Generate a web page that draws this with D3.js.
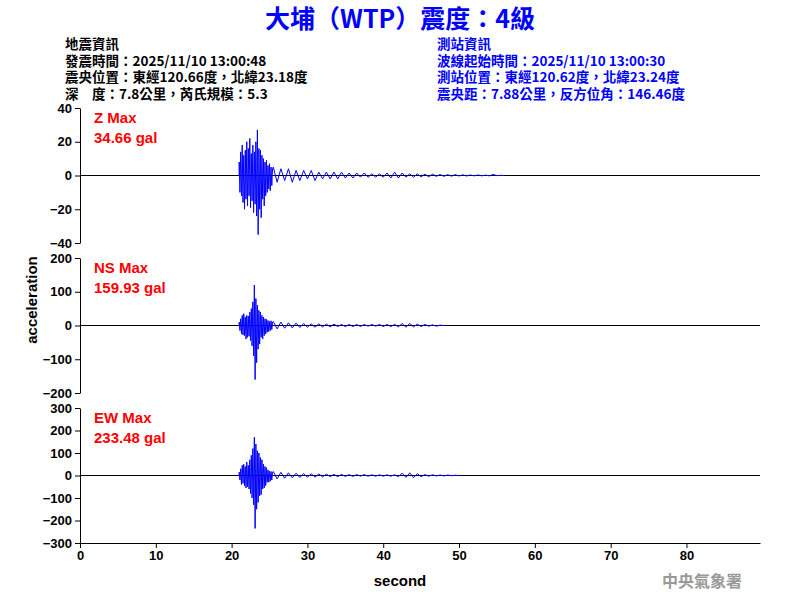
<!DOCTYPE html>
<html><head><meta charset="utf-8">
<script src="https://cdn.jsdelivr.net/npm/d3@7"></script>
<style>body{margin:0;background:#fff}svg{display:block}</style>
</head><body>
<script>
const title = "大埔（WTP）震度：4級";
const leftInfo = ["地震資訊","發震時間：2025/11/10 13:00:48","震央位置：東經120.66度，北緯23.18度","深　度：7.8公里，芮氏規模：5.3"];
const rightInfo = ["測站資訊","波線起始時間：2025/11/10 13:00:30","測站位置：東經120.62度，北緯23.24度","震央距：7.88公里，反方位角：146.46度"];
const channels = ["Z","NS","EW"];
const maxLabels = ["34.66 gal","159.93 gal","233.48 gal"];
const yLimits = [40,200,300];
const yTicks = [[-40,-20,0,20,40],[-200,-100,0,100,200],[-300,-200,-100,0,100,200,300]];
const xTicks = [0,10,20,30,40,50,60,70,80];
const strongStart = 21.0, strongDt = 0.1, codaStart = 25.5, codaDt = 0.5;
const zStrong = [8,-10,14,-12,18,-16,12,-20,15,-14,20,-18,16,-12,22,-19,13,-15,18,-22,14,-17,20,-24,27,-35,16,-20,15,-25,12,-14,10,-18,8,-12,9,-10,6,-8,7,-9,5,-6,4];
const zCoda = [5,-4,4,-3,4,-4,3,-3,3,-2,3,-3,2,-2,2,-2,2,-2,2,-1.5,1.5,-1.5,1.5,-1,1.5,-1,1,-1,1,-1,1.5,-1.5,2,-1.5,1.5,-1,1,-1,1,-0.8,0.8,-0.8,0.8,-0.5,0.6,-0.5,0.5,-0.4,0.5,-0.3,0.4,-0.3,0.3,-0.2,0.3,-0.2,0.2,-0.2,0.6,-0.1,0.1,0];
const nsStrong = [10,-15,20,-25,30,-28,35,-30,25,-40,30,-35,28,-32,40,-45,50,-60,70,-90,120,-160,80,-110,60,-70,45,-55,40,-35,30,-40,25,-30,20,-25,18,-20,15,-18,12,-15,14,-12,10];
const nsCoda = [12,-10,10,-8,8,-7,7,-6,6,-5,5,-5,5,-4,4,-4,4,-3,3,-3,3,-3,3,-3,3,-2,3,-2,3,-3,3,-3,3,-4,6,-5,6,-4,4,-3,3,-2,2,-2,1,0];
const ewStrong = [15,-20,30,-40,45,-35,50,-45,40,-55,60,-50,45,-60,70,-80,90,-100,120,-130,170,-235,140,-150,110,-120,100,-90,80,-85,70,-60,50,-55,40,-45,35,-30,25,-30,20,-25,18,-20,15];
const ewCoda = [18,-15,14,-12,12,-10,10,-9,9,-8,8,-7,7,-6,6,-5,5,-5,5,-4,4,-4,4,-3,4,-3,3,-3,3,-3,3,-3,3,-5,10,-8,12,-10,8,-5,4,-3,3,-2,2,-2,2,-1,1,0];
const traces = [[zStrong,zCoda],[nsStrong,nsCoda],[ewStrong,ewCoda]];

const W=800,H=600;
const svg=d3.select("body").append("svg").attr("width",W).attr("height",H);
const x=d3.scaleLinear().domain([0,89.7]).range([80,760]);
const panels=[[108,243],[258,393],[408,543]];
const F="Liberation Sans, Arial, sans-serif";
const CJK="'Noto Sans CJK TC', sans-serif";

svg.append("text").attr("x",400).attr("y",28).attr("text-anchor","middle").attr("fill","#0000ff")
  .attr("font-family",CJK).attr("font-weight","bold").attr("font-size",25).text(title);
leftInfo.forEach((t,i)=>svg.append("text").attr("x",65).attr("y",49+i*16.5).attr("font-family",CJK)
  .attr("font-weight","bold").attr("font-size",13.5).attr("fill","#000").text(t));
rightInfo.forEach((t,i)=>svg.append("text").attr("x",437).attr("y",49+i*16.5).attr("font-family",CJK)
  .attr("font-weight","bold").attr("font-size",13.5).attr("fill","#0000ff").text(t));

panels.forEach(([top,bot],k)=>{
  const y=d3.scaleLinear().domain([-yLimits[k],yLimits[k]]).range([bot,top]);
  const g=svg.append("g");
  const ax=g.append("g").attr("transform","translate(80,0)")
    .call(d3.axisLeft(y).tickValues(yTicks[k]).tickSize(5).tickSizeOuter(0));
  ax.select(".domain").attr("stroke","#000");
  ax.selectAll("text").attr("font-family",F).attr("font-size",13).attr("font-weight","bold").attr("fill","#000");
  g.append("line").attr("x1",x(0)).attr("x2",760).attr("y1",y(0)).attr("y2",y(0)).attr("stroke","#000");
  const [s,c]=traces[k];
  const pts=s.map((v,i)=>[strongStart+i*strongDt,v]).concat(c.map((v,i)=>[codaStart+i*codaDt,v]));
  pts.unshift([strongStart,0]);
  g.append("path").attr("d",d3.line().x(d=>x(d[0])).y(d=>y(d[1]))(pts))
    .attr("fill","none").attr("stroke","#0000ff").attr("stroke-width",1);
  g.append("text").attr("x",94).attr("y",top+15).attr("fill","#ff0000").attr("font-family",F)
    .attr("font-size",15).attr("font-weight","bold").text(channels[k]+" Max");
  g.append("text").attr("x",94).attr("y",top+35).attr("fill","#ff0000").attr("font-family",F)
    .attr("font-size",15).attr("font-weight","bold").text(maxLabels[k]);
});

const xa=svg.append("g").attr("transform","translate(0,543)")
  .call(d3.axisBottom(x).tickValues(xTicks).tickSize(5).tickSizeOuter(0));
xa.selectAll("text").attr("font-family",F).attr("font-size",13).attr("font-weight","bold").attr("fill","#000");
svg.append("line").attr("x1",80).attr("x2",760).attr("y1",543.5).attr("y2",543.5).attr("stroke","#000");
svg.append("text").attr("x",400).attr("y",586).attr("text-anchor","middle").attr("font-family",F)
  .attr("font-size",15).attr("font-weight","bold").text("second");
svg.append("text").attr("transform","translate(37,300) rotate(-90)").attr("text-anchor","middle")
  .attr("font-family",F).attr("font-size",15).attr("font-weight","bold").text("acceleration");
svg.append("text").attr("x",702).attr("y",587).attr("text-anchor","middle").attr("font-family",CJK)
  .attr("font-weight","bold").attr("font-size",16).attr("fill","#999").text("中央氣象署");
</script>
</body></html>
